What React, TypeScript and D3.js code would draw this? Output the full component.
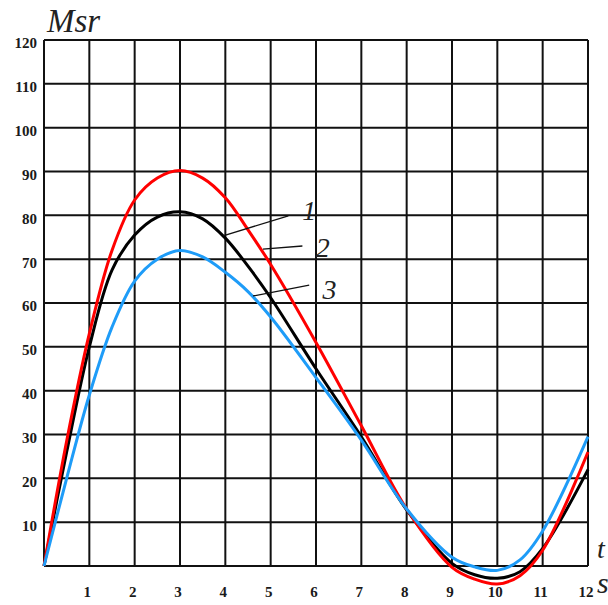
import * as d3 from "d3";
import React from "react";

const tValues = [0, 0.5, 1, 1.5, 2, 2.5, 3, 3.5, 4, 4.5, 5, 6, 7, 8, 9, 9.5, 10, 10.5, 11, 12];
const curve1 = [0, 26, 50, 67.5, 75.5, 79.6, 80.8, 79.2, 74.8, 68.4, 61.2, 45, 29.5, 12.8, 0.6, -2, -2.8, -1.3, 4, 22];
const curve2 = [0, 28.5, 53, 72, 83.5, 88.5, 90.2, 88.5, 84, 76.7, 68.8, 51, 32, 13, -0.3, -3, -4.1, -2.2, 3.6, 26];
const curve3 = [0, 20, 39, 54.5, 65, 70, 72, 70.5, 67, 62.6, 56.8, 43, 28.7, 13, 2, -0.2, -1, 1.4, 8, 29.5];

const xTicks = [1, 2, 3, 4, 5, 6, 7, 8, 9, 10, 11, 12];
const yTicks = [10, 20, 30, 40, 50, 60, 70, 80, 90, 100, 110, 120];

const series = [
    {name: "1", values: curve1, color: "#000000"},
    {name: "2", values: curve2, color: "#ff0000"},
    {name: "3", values: curve3, color: "#1e9cf8"},
];

// curve labels: text position and leader line (data units)
const labels = [
    {name: "1", tx: 5.85, ty: 79, x1: 5.39, y1: 79.9, x2: 3.95, y2: 75.3},
    {name: "2", tx: 6.15, ty: 70.5, x1: 5.7, y1: 73, x2: 4.83, y2: 72.3},
    {name: "3", tx: 6.3, ty: 61, x1: 5.85, y1: 64.1, x2: 4.61, y2: 61.6},
];

const width = 608;
const height = 605;

const App = () => {
    const x = d3.scaleLinear().domain([0, 12]).range([44, 588]);
    const y = d3.scaleLinear().domain([0, 120]).range([566, 40]);

    const line = d3
        .line<[number, number]>()
        .x(d => x(d[0]))
        .y(d => y(d[1]))
        .curve(d3.curveCatmullRom.alpha(0.5));

    const serif = "'Liberation Serif', 'DejaVu Serif', serif";

    return (
        <svg
            width={width}
            height={height}
            style={{position: "absolute", left: 0, top: 0, background: "#fff"}}
        >
            {/* grid */}
            <g stroke="#111" strokeWidth={2}>
                {d3.range(0, 13).map(t => (
                    <line key={"v" + t} x1={x(t)} x2={x(t)} y1={y(0)} y2={y(120)}/>
                ))}
                {d3.range(0, 130, 10).map(v => (
                    <line key={"h" + v} x1={x(0)} x2={x(12)} y1={y(v)} y2={y(v)}/>
                ))}
            </g>

            {/* tick labels */}
            <g fontFamily={serif} fontWeight="bold" fontSize={15} fill="#1a1a1a">
                {yTicks.map(v => (
                    <text key={v} x={37} y={y(v) + 5} textAnchor="end" dominantBaseline="middle">
                        {v}
                    </text>
                ))}
                {xTicks.map(t => (
                    <text key={t} x={x(t) - 2} y={594} textAnchor="middle" dominantBaseline="middle">
                        {t}
                    </text>
                ))}
            </g>

            {/* curves */}
            <g fill="none" strokeWidth={3} strokeLinejoin="round">
                {series.map(s => (
                    <path
                        key={s.name}
                        d={line(tValues.map((t, i) => [t, s.values[i]]) as [number, number][]) || ""}
                        stroke={s.color}
                    />
                ))}
            </g>

            {/* leader lines and labels */}
            <g>
                {labels.map(l => (
                    <g key={l.name}>
                        <line x1={x(l.x1)} y1={y(l.y1)} x2={x(l.x2)} y2={y(l.y2)} stroke="#111" strokeWidth={1.3}/>
                        <text
                            x={x(l.tx)}
                            y={y(l.ty)}
                            textAnchor="middle"
                            fontFamily={serif}
                            fontStyle="italic"
                            fontSize={28}
                            fill="#222"
                        >
                            {l.name}
                        </text>
                    </g>
                ))}
            </g>

            {/* axis titles */}
            <text x={47} y={32} fontFamily={serif} fontStyle="italic" fontSize={33} fill="#222">
                Msr
            </text>
            <text x={597} y={558} fontFamily={serif} fontStyle="italic" fontSize={28} fill="#222">
                t
            </text>
            <text x={597} y={593} fontFamily={serif} fontStyle="italic" fontSize={30} fill="#222">
                s
            </text>
        </svg>
    );
};

export default App;
